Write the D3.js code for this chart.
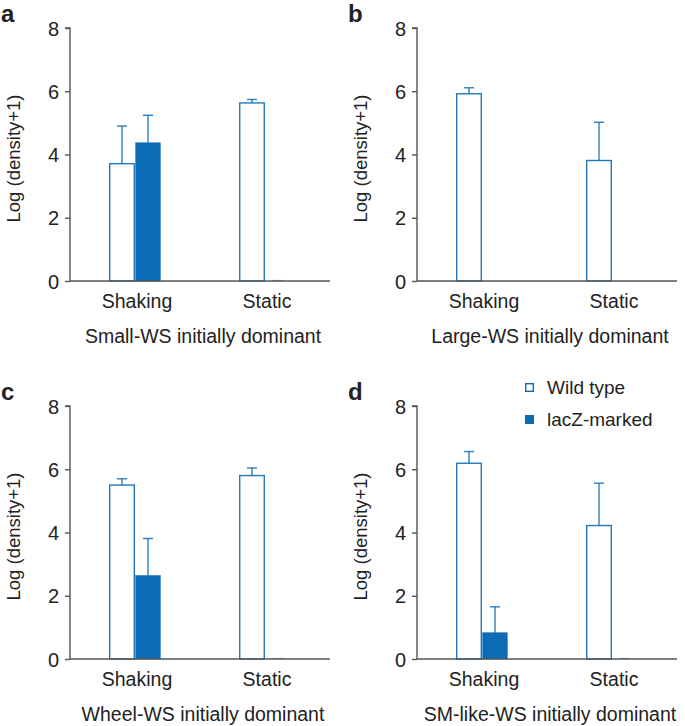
<!DOCTYPE html>
<html><head><meta charset="utf-8">
<script src="https://cdn.jsdelivr.net/npm/d3@7"></script>
<style>body{margin:0;background:#fff}text{font-family:"Liberation Sans",Arial,Helvetica,sans-serif;fill:#222}</style>
</head><body><svg id="c" width="685" height="726"></svg>
<script>
const categories = ["Shaking", "Static"];
const yTicks = [0, 2, 4, 6, 8];
const panelLetters = ["a", "b", "c", "d"];
const panelTitles = ["Small-WS initially dominant", "Large-WS initially dominant", "Wheel-WS initially dominant", "SM-like-WS initially dominant"];
// values per panel: [Shaking, Static]
const wildMean = [[3.71, 5.63], [5.92, 3.81], [5.50, 5.80], [6.19, 4.22]];
const wildErr  = [[4.90, 5.74], [6.11, 5.02], [5.70, 6.04], [6.56, 5.56]];
const lacMean  = [[4.37, 0], [null, null], [2.64, 0], [0.83, 0]];
const lacErr   = [[5.24, null], [null, null], [3.81, null], [1.65, null]];
const legendLabels = ["Wild type", "lacZ-marked"];

const blue = "#0b6bb5";
const svg = d3.select("#c");
const layout = [
  {ax: 70, y0: 281, y8: 28},
  {ax: 417, y0: 281, y8: 28},
  {ax: 70, y0: 659, y8: 406},
  {ax: 417, y0: 659, y8: 406}
];
const axLen = 260, barW = 26;

layout.forEach((L, p) => {
  const g = svg.append("g");
  const y = d3.scaleLinear().domain([0, 8]).range([L.y0, L.y8]);
  const x = d3.scaleBand().domain(categories).range([L.ax, L.ax + axLen]).padding(0);
  // y axis
  const ya = g.append("g").attr("transform", `translate(${L.ax},0)`)
    .call(d3.axisLeft(y).tickValues(yTicks).tickSize(5).tickPadding(6).tickFormat(d3.format("d")));
  ya.select(".domain").attr("stroke", "#555").attr("stroke-width", 1.4).attr("d", `M-5,${y(8)}H0V${y(0)}`);
  ya.selectAll(".tick line").attr("stroke", "#555").attr("stroke-width", 1.4);
  ya.selectAll(".tick text").style("font-size", "20px").attr("fill", "#222").attr("dy", "0.36em");
  // bars
  categories.forEach((c, i) => {
    const cx = x(c) + x.bandwidth() / 2;
    const series = [
      {m: wildMean[p][i], e: wildErr[p][i], left: cx - barW, fill: "#fff"},
      {m: lacMean[p][i], e: lacErr[p][i], left: cx, fill: blue}
    ];
    series.forEach(s => {
      if (s.m === null) return;
      if (s.e !== null) {
        const mx = s.left + barW / 2;
        g.append("line").attr("x1", mx).attr("x2", mx).attr("y1", y(s.m)).attr("y2", y(s.e))
          .attr("stroke", blue).attr("stroke-width", 1.4).attr("opacity", 0.85);
        g.append("line").attr("x1", mx - 5).attr("x2", mx + 5).attr("y1", y(s.e)).attr("y2", y(s.e))
          .attr("stroke", blue).attr("stroke-width", 1.4).attr("opacity", 0.85);
      }
      if (s.m === 0) {
        g.append("line").attr("x1", s.left + 8).attr("x2", s.left + 18).attr("y1", y(0) - 0.5).attr("y2", y(0) - 0.5)
          .attr("stroke", "#8aa9c8").attr("stroke-width", 1.2);
        return;
      }
      g.append("rect").attr("x", s.left + 0.7).attr("y", y(s.m)).attr("width", barW - 1.4).attr("height", y(0) - y(s.m))
        .attr("fill", s.fill).attr("stroke", blue).attr("stroke-width", s.fill === "#fff" ? 1.4 : 0.5).attr("opacity", s.fill === "#fff" ? 0.9 : 1);
    });
  });
  // x axis line
  g.append("line").attr("x1", L.ax).attr("x2", L.ax + axLen).attr("y1", y(0)).attr("y2", y(0))
    .attr("stroke", "#555").attr("stroke-width", 1.4);
  categories.forEach(c => {
    g.append("text").attr("x", x(c) + x.bandwidth() / 2 + 2).attr("y", y(0) + 27)
      .attr("text-anchor", "middle").style("font-size", "19.5px").text(c);
  });
  g.append("text").attr("x", L.ax + axLen / 2 + 3).attr("y", y(0) + 62)
    .attr("text-anchor", "middle").style("font-size", "19.5px").text(panelTitles[p]);
  g.append("text").attr("transform", `translate(${L.ax - 50},${(y(0) + y(8)) / 2 + 4}) rotate(-90)`)
    .attr("text-anchor", "middle").style("font-size", "18.5px").text("Log (density+1)");
  g.append("text").attr("x", L.ax - 69).attr("y", L.y8 - 6)
    .style("font-size", "24px").style("font-weight", "bold").attr("fill", "#111").text(panelLetters[p]);
});

// legend
const lg = svg.append("g").attr("transform", "translate(525,383)");
legendLabels.forEach((lab, i) => {
  lg.append("rect").attr("x", 0.7).attr("y", i * 32 + 0.7).attr("width", 7.6).attr("height", 7.6)
    .attr("fill", i === 0 ? "#fff" : blue).attr("stroke", blue).attr("stroke-width", 1.4);
  lg.append("text").attr("x", 22).attr("y", i * 32 + 10.5).style("font-size", "19px").text(lab);
});
</script></body></html>
